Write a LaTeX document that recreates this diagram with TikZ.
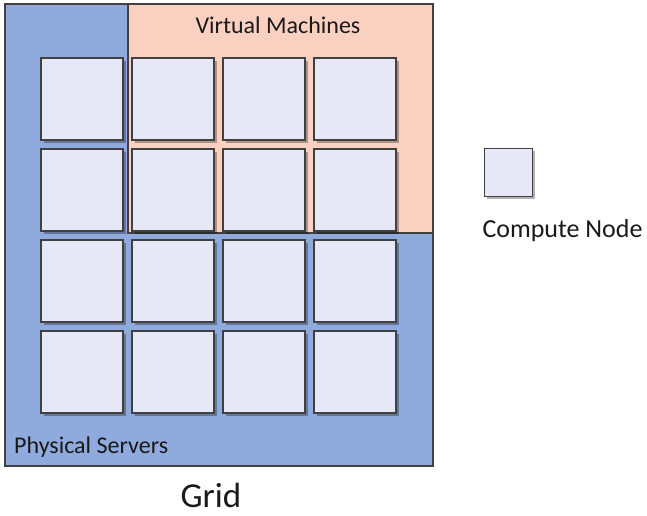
\documentclass[tikz,border=0pt]{standalone}
\usepackage{fontspec}
\setmainfont{Carlito}
\usetikzlibrary{shadows,positioning}
\definecolor{psblue}{RGB}{143,170,220}
\definecolor{vmpink}{RGB}{250,208,192}
\definecolor{cnfill}{RGB}{230,232,248}
\definecolor{cnedge}{RGB}{64,64,64}
\tikzset{
  cnbox/.style={draw=cnedge, line width=1.6pt, fill=cnfill, minimum size=82pt, inner sep=0pt,
    drop shadow={shadow xshift=2.5pt, shadow yshift=-2.5pt, opacity=0.3, fill=black}},
  areabox/.style={draw=cnedge, line width=1.2pt},
  lbl/.style={font=\fontsize{24}{28}\selectfont, text=black!90, inner sep=0pt}
}
\begin{document}
\begin{tikzpicture}[x=1pt, y=-1pt]
  \useasboundingbox (0,0) rectangle (647,515);

  % Physical servers and virtual machines
  \node[areabox, fill=psblue, minimum width=428pt, minimum height=462pt, inner sep=0pt] (ps) at (219,235) {};
  \node[areabox, fill=vmpink, minimum width=305pt, minimum height=229pt, inner sep=0pt] (vm) at (280.5,118.5) {};
  \draw[areabox] (ps.south west) rectangle (ps.north east);

  % Compute nodes of the grid
  \foreach \r/\yy in {1/99, 2/190, 3/281, 4/372} {
    \foreach \c/\xx in {1/82, 2/173, 3/264, 4/355} {
      \node[cnbox] (cn\r\c) at (\xx,\yy) {};
    }
  }

  % Legend
  \node[cnbox, minimum size=48pt] (legend) at (508.5,172.5) {};
  \node[lbl, font=\fontsize{26}{30}\selectfont, below right=22pt and -51pt of legend] (legendtxt) {Compute Node};

  % Labels
  \node[lbl] (vmtxt) at (278,25) {Virtual Machines};
  \node[lbl, anchor=west] (pstxt) at (14,447) {Physical Servers};
  \node[font=\fontsize{35}{40}\selectfont, text=black!90, inner sep=0pt] (gridtxt) at (211,495) {Grid};
\end{tikzpicture}
\end{document}
